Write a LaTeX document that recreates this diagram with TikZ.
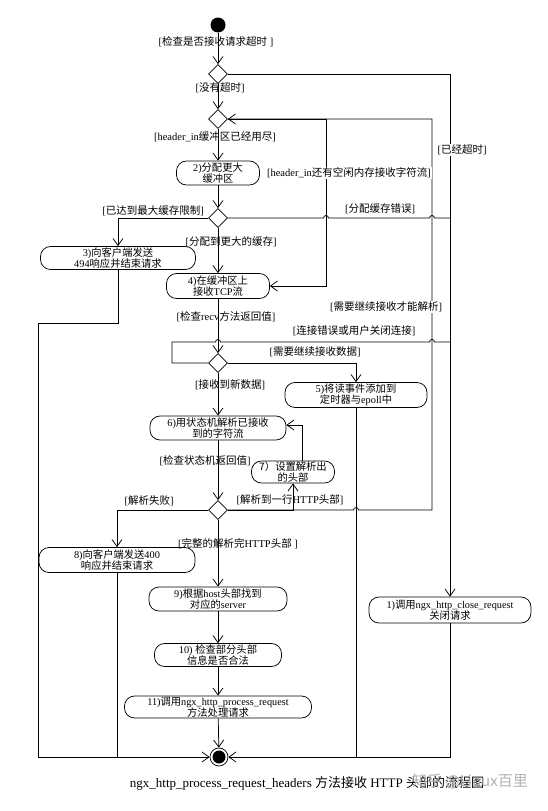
\documentclass[tikz,border=0pt]{standalone}
\usepackage{fontspec}
\setmainfont{Liberation Serif}
\newfontfamily\cjk{Noto Sans CJK SC}
\usetikzlibrary{shapes.geometric,arrows.meta}
\newcommand\zh[1]{{\cjk #1}}
\begin{document}
\begin{tikzpicture}[x=1pt,y=-1pt,line width=0.75pt,
  arr/.style={-{Straight Barb[length=7pt,width=10pt]}},
  dec/.style={diamond,draw,minimum width=19pt,minimum height=19pt,inner sep=0pt},
  act/.style={draw,rounded corners=10pt,align=center,inner sep=0.5pt,minimum height=24pt,font=\fontsize{10.3}{11.5}\selectfont},
  lbl/.style={inner sep=0pt,font=\fontsize{10.5}{12}\selectfont},
  lblw/.style={lbl,fill=white,inner sep=1pt}]
\useasboundingbox (0,0) rectangle (548,811);

% nodes
\node[circle,fill,minimum size=15pt,inner sep=0pt] (start) at (218,25) {};
\node[dec] (d1) at (218,74) {};
\node[dec] (d2) at (218,119) {};
\node[act,minimum width=83pt] (n2) at (218,173) {2)\zh{分配更大}\\\zh{缓冲区}};
\node[dec] (d3) at (218,218) {};
\node[act,minimum width=155pt,minimum height=23pt] (n3) at (118,258) {3)\zh{向客户端发送}\\494\zh{响应并结束请求}};
\node[act,minimum width=103pt,minimum height=25pt] (n4) at (218,286) {4)\zh{在缓冲区上}\\\zh{接收}TCP\zh{流}};
\node[dec] (d5) at (218,363) {};
\node[act,minimum width=142pt,minimum height=25pt] (n5) at (356,395) {5)\zh{将读事件添加到}\\\zh{定时器与}epoll\zh{中}};
\node[act,minimum width=136pt] (n6) at (218,428) {6)\zh{用状态机解析已接收}\\\zh{到的字符流}};
\node[act,minimum width=83pt,minimum height=22pt] (n7) at (293,472) {\zh{7）设置解析出}\\\zh{的头部}};
\node[dec] (d4) at (218,510) {};
\node[act,minimum width=156pt,minimum height=25pt] (n8) at (117,560) {8)\zh{向客户端发送}400\\\zh{响应并结束请求}};
\node[act,minimum width=138pt] (n9) at (218,599) {9)\zh{根据}host\zh{头部找到}\\\zh{对应的}server};
\node[act,minimum width=127pt,minimum height=23pt] (n10) at (218,655) {10) \zh{检查部分头部}\\\zh{信息是否合法}};
\node[act,minimum width=187pt,minimum height=22pt] (n11) at (218,707) {11)\zh{调用}ngx\_http\_process\_request\\\zh{方法处理请求}};
\node[act,minimum width=162pt,minimum height=26pt] (n1) at (450,610) {1)\zh{调用}ngx\_http\_close\_request\\\zh{关闭请求}};
\node[circle,draw,minimum size=18pt,inner sep=0pt] (end) at (219,757) {};
\fill (end.center) circle[radius=6.5pt];

% junction coordinates
\coordinate (j1) at (326,119);
\coordinate (j2) at (450,218);
\coordinate (j3) at (450,342);
\coordinate (j4) at (356,757);
\coordinate (j5) at (117,757);
\coordinate (j6) at (38,323);

% labels (drawn under lines)
\node[lbl] (l1) at (216,42) {[\zh{检查是否接收请求超时} ]};
\node[lbl] (l2) at (220,88) {[\zh{没有超时}]};
\node[lbl] (l4) at (215,137) {[header\_in\zh{缓冲区已经用尽}]};
\node[lbl] (l6) at (153,211) {[\zh{已达到最大缓存限制}]};
\node[lbl] (l7) at (380,209) {[\zh{分配缓存错误}]};
\node[lbl] (l8) at (231,242) {[\zh{分配到更大的缓存}]};
\node[lbl] (l10) at (226,317) {[\zh{检查}recv\zh{方法返回值}]};
\node[lbl] (l11) at (354,331) {[\zh{连接错误或用户关闭连接}]};
\node[lbl] (l12) at (315,352) {[\zh{需要继续接收数据}]};
\node[lbl] (l13) at (230,385) {[\zh{接收到新数据}]};
\node[lbl] (l14) at (205,461) {[\zh{检查状态机返回值}]};
\node[lbl] (l15) at (149,501) {[\zh{解析失败}]};
\node[lbl] (l16) at (290,500) {[\zh{解析到一行}HTTP\zh{头部}]};
\node[lbl] (l17) at (238,544) {[\zh{完整的解析完}HTTP\zh{头部} ]};

% connectors
\draw[arr] (start) -- (d1);
\draw[arr] (d1) -- (d2);
\draw[arr] (d1.east) -| (n1.north);
\draw[arr] (d2) -- (n2);
\draw[arr] (d2.east) -- (j1) |- (n4.east);
\draw[arr] (d4.east) -- (353.5,510) arc[start angle=180,end angle=0,radius=2.5pt] -- (432,510) |- (d2.east);
\draw[arr] (d4.east) -| (n7.south);
\draw[arr] ([xshift=9pt]n7.north) |- ([yshift=3pt]n6.east);
\draw[arr] (n2) -- (d3);
\draw[arr] (d3.west) -| (n3.north);
\draw[arr] (d3) -- (n4);
\draw (d3.east) -- (323.5,218) arc[start angle=180,end angle=0,radius=2.5pt] -- (429.5,218) arc[start angle=180,end angle=0,radius=2.5pt] -- (j2);
\draw[arr] (n3.south) |- (j6) |- (end.west);
\draw[arr] (n4) -- (d5);
\draw (d5.west) -| (172,342) -- (215.5,342) arc[start angle=180,end angle=0,radius=2.5pt] -- (429.5,342) arc[start angle=180,end angle=0,radius=2.5pt] -- (j3);
\draw[arr] (d5.east) -| (n5.north);
\draw[arr] (d5) -- (n6);
\draw (n5.south) -- (j4);
\draw[arr] (n6) -- (d4);
\draw[arr] (d4.west) -| (n8.north);
\draw (n8.south) -- (j5);
\draw[arr] (d4) -- (n9);
\draw[arr] (n9) -- (n10);
\draw[arr] (n10) -- (n11);
\draw[arr] (n11) -- (end);
\draw[arr] (n1.south) |- (end.east);

% labels over lines
\node[lblw] (l3) at (462,150) {[\zh{已经超时}]};
\node[lblw] (l5) at (349,173) {[header\_in\zh{还有空闲内存接收字符流}]};
\node[lblw] (l9) at (386,307) {[\zh{需要继续接收才能解析}]};

% caption and watermark
\node[inner sep=0pt] (cap) at (307,783) {\fontsize{13}{15}\selectfont ngx\_http\_process\_request\_headers \zh{方法接收} HTTP \zh{头部的流程图}};
\node[inner sep=0pt,text=black!30] (wm) at (470,781) {\fontsize{15}{17}\selectfont\zh{知乎 @Linux百里}};
\end{tikzpicture}
\end{document}
